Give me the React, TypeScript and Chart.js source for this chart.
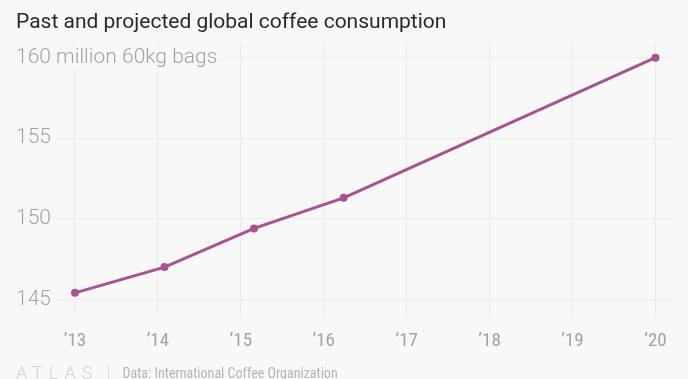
import React, { useEffect, useRef } from "react";
import { Chart, registerables } from "chart.js";

Chart.register(...registerables);

const TITLE = "Past and projected global coffee consumption";
const SOURCE = "Data: International Coffee Organization";
const YEARS = [2013, 2014.08, 2015.16, 2016.24, 2020];
const CONSUMPTION = [145.4, 147.0, 149.4, 151.3, 160.0];
const X_TICKS = [2013, 2014, 2015, 2016, 2017, 2018, 2019, 2020];
const X_LABELS = ["\u201913", "\u201914", "\u201915", "\u201916", "\u201917", "\u201918", "\u201919", "\u201920"];
const Y_TICKS = [145, 150, 155, 160];
const Y_LABELS = ["145", "150", "155", "160 million 60kg bags"];

const BG = "#f8f8f8";
const LINE = "#a8528e";
const GRID = "#ebebeb";

export default function App() {
  const ref = useRef<HTMLCanvasElement | null>(null);

  useEffect(() => {
    document.body.style.margin = "0";
    if (!ref.current) return;
    const chart = new Chart(ref.current, {
      type: "line",
      data: {
        datasets: [
          {
            data: YEARS.map((x, i) => ({ x, y: CONSUMPTION[i] })),
            borderColor: LINE,
            backgroundColor: LINE,
            borderWidth: 3,
            pointRadius: 4,
            pointBorderWidth: 0,
            pointBackgroundColor: LINE,
            tension: 0,
          },
        ],
      },
      options: {
        animation: false,
        responsive: false,
        devicePixelRatio: 1,
        layout: { padding: { left: 16, right: 11, top: 0, bottom: 13 } },
        plugins: {
          legend: { display: false },
          tooltip: { enabled: false },
          title: {
            display: true,
            text: TITLE,
            align: "start",
            color: "#2a2a2a",
            font: { family: "Roboto, 'Noto Sans', sans-serif", size: 21, weight: "400" },
            padding: { top: 10, bottom: 7 },
          },
        },
        scales: {
          x: {
            type: "linear",
            min: 2012.735,
            max: 2020.26,
            afterBuildTicks: (s: any) => {
              s.ticks = X_TICKS.map((v) => ({ value: v }));
            },
            ticks: {
              autoSkip: false,
              maxRotation: 0,
              padding: 13,
              color: "#a3a3a3",
              font: { family: "'Liberation Sans Narrow', 'Roboto Condensed', Roboto, sans-serif", size: 19 },
              callback: (_v: any, i: number) => X_LABELS[i],
            },
            grid: { color: GRID, drawTicks: false },
            border: { display: false },
          },
          y: {
            type: "linear",
            min: 143.89,
            max: 160.96,
            afterBuildTicks: (s: any) => {
              s.ticks = Y_TICKS.map((v) => ({ value: v }));
            },
            afterFit: (s: any) => {
              s.width = 37;
            },
            ticks: {
              mirror: true,
              crossAlign: "near",
              padding: -37,
              color: "#a3a3a3",
              font: { family: "Roboto, 'Noto Sans', sans-serif", size: 21, weight: "300" },
              showLabelBackdrop: true,
              backdropColor: BG,
              backdropPadding: { top: 0, bottom: 0, left: 0, right: 6 },
              callback: (_v: any, i: number) => Y_LABELS[i],
            },
            grid: { color: GRID, drawTicks: false },
            border: { display: false },
          },
        },
      },
    });
    return () => chart.destroy();
  }, []);

  return (
    <div
      style={{
        position: "fixed",
        left: 0,
        top: 0,
        width: 688,
        height: 379,
        background: BG,
        overflow: "hidden",
      }}
    >
      <canvas ref={ref} width={688} height={379} style={{ position: "absolute", left: 0, top: 0 }} />
      <div
        style={{
          position: "absolute",
          left: 16,
          top: 362,
          height: 22,
          display: "flex",
          alignItems: "center",
          whiteSpace: "nowrap",
        }}
      >
        <span
          style={{
            fontFamily: "Roboto, sans-serif",
            fontWeight: 300,
            fontSize: 18,
            letterSpacing: 6,
            color: "#d2d2d2",
            lineHeight: "22px",
          }}
        >
          ATLAS
        </span>
        <span
          style={{
            display: "inline-block",
            width: 1,
            height: 16,
            background: "#dcdcdc",
            marginLeft: 10,
            marginRight: 13,
          }}
        />
        <span
          style={{
            fontFamily: "'Liberation Sans Narrow', 'Roboto Condensed', Roboto, sans-serif",
            fontSize: 14,
            color: "#b5b5b5",
            lineHeight: "22px",
          }}
        >
          {SOURCE}
        </span>
      </div>
    </div>
  );
}
